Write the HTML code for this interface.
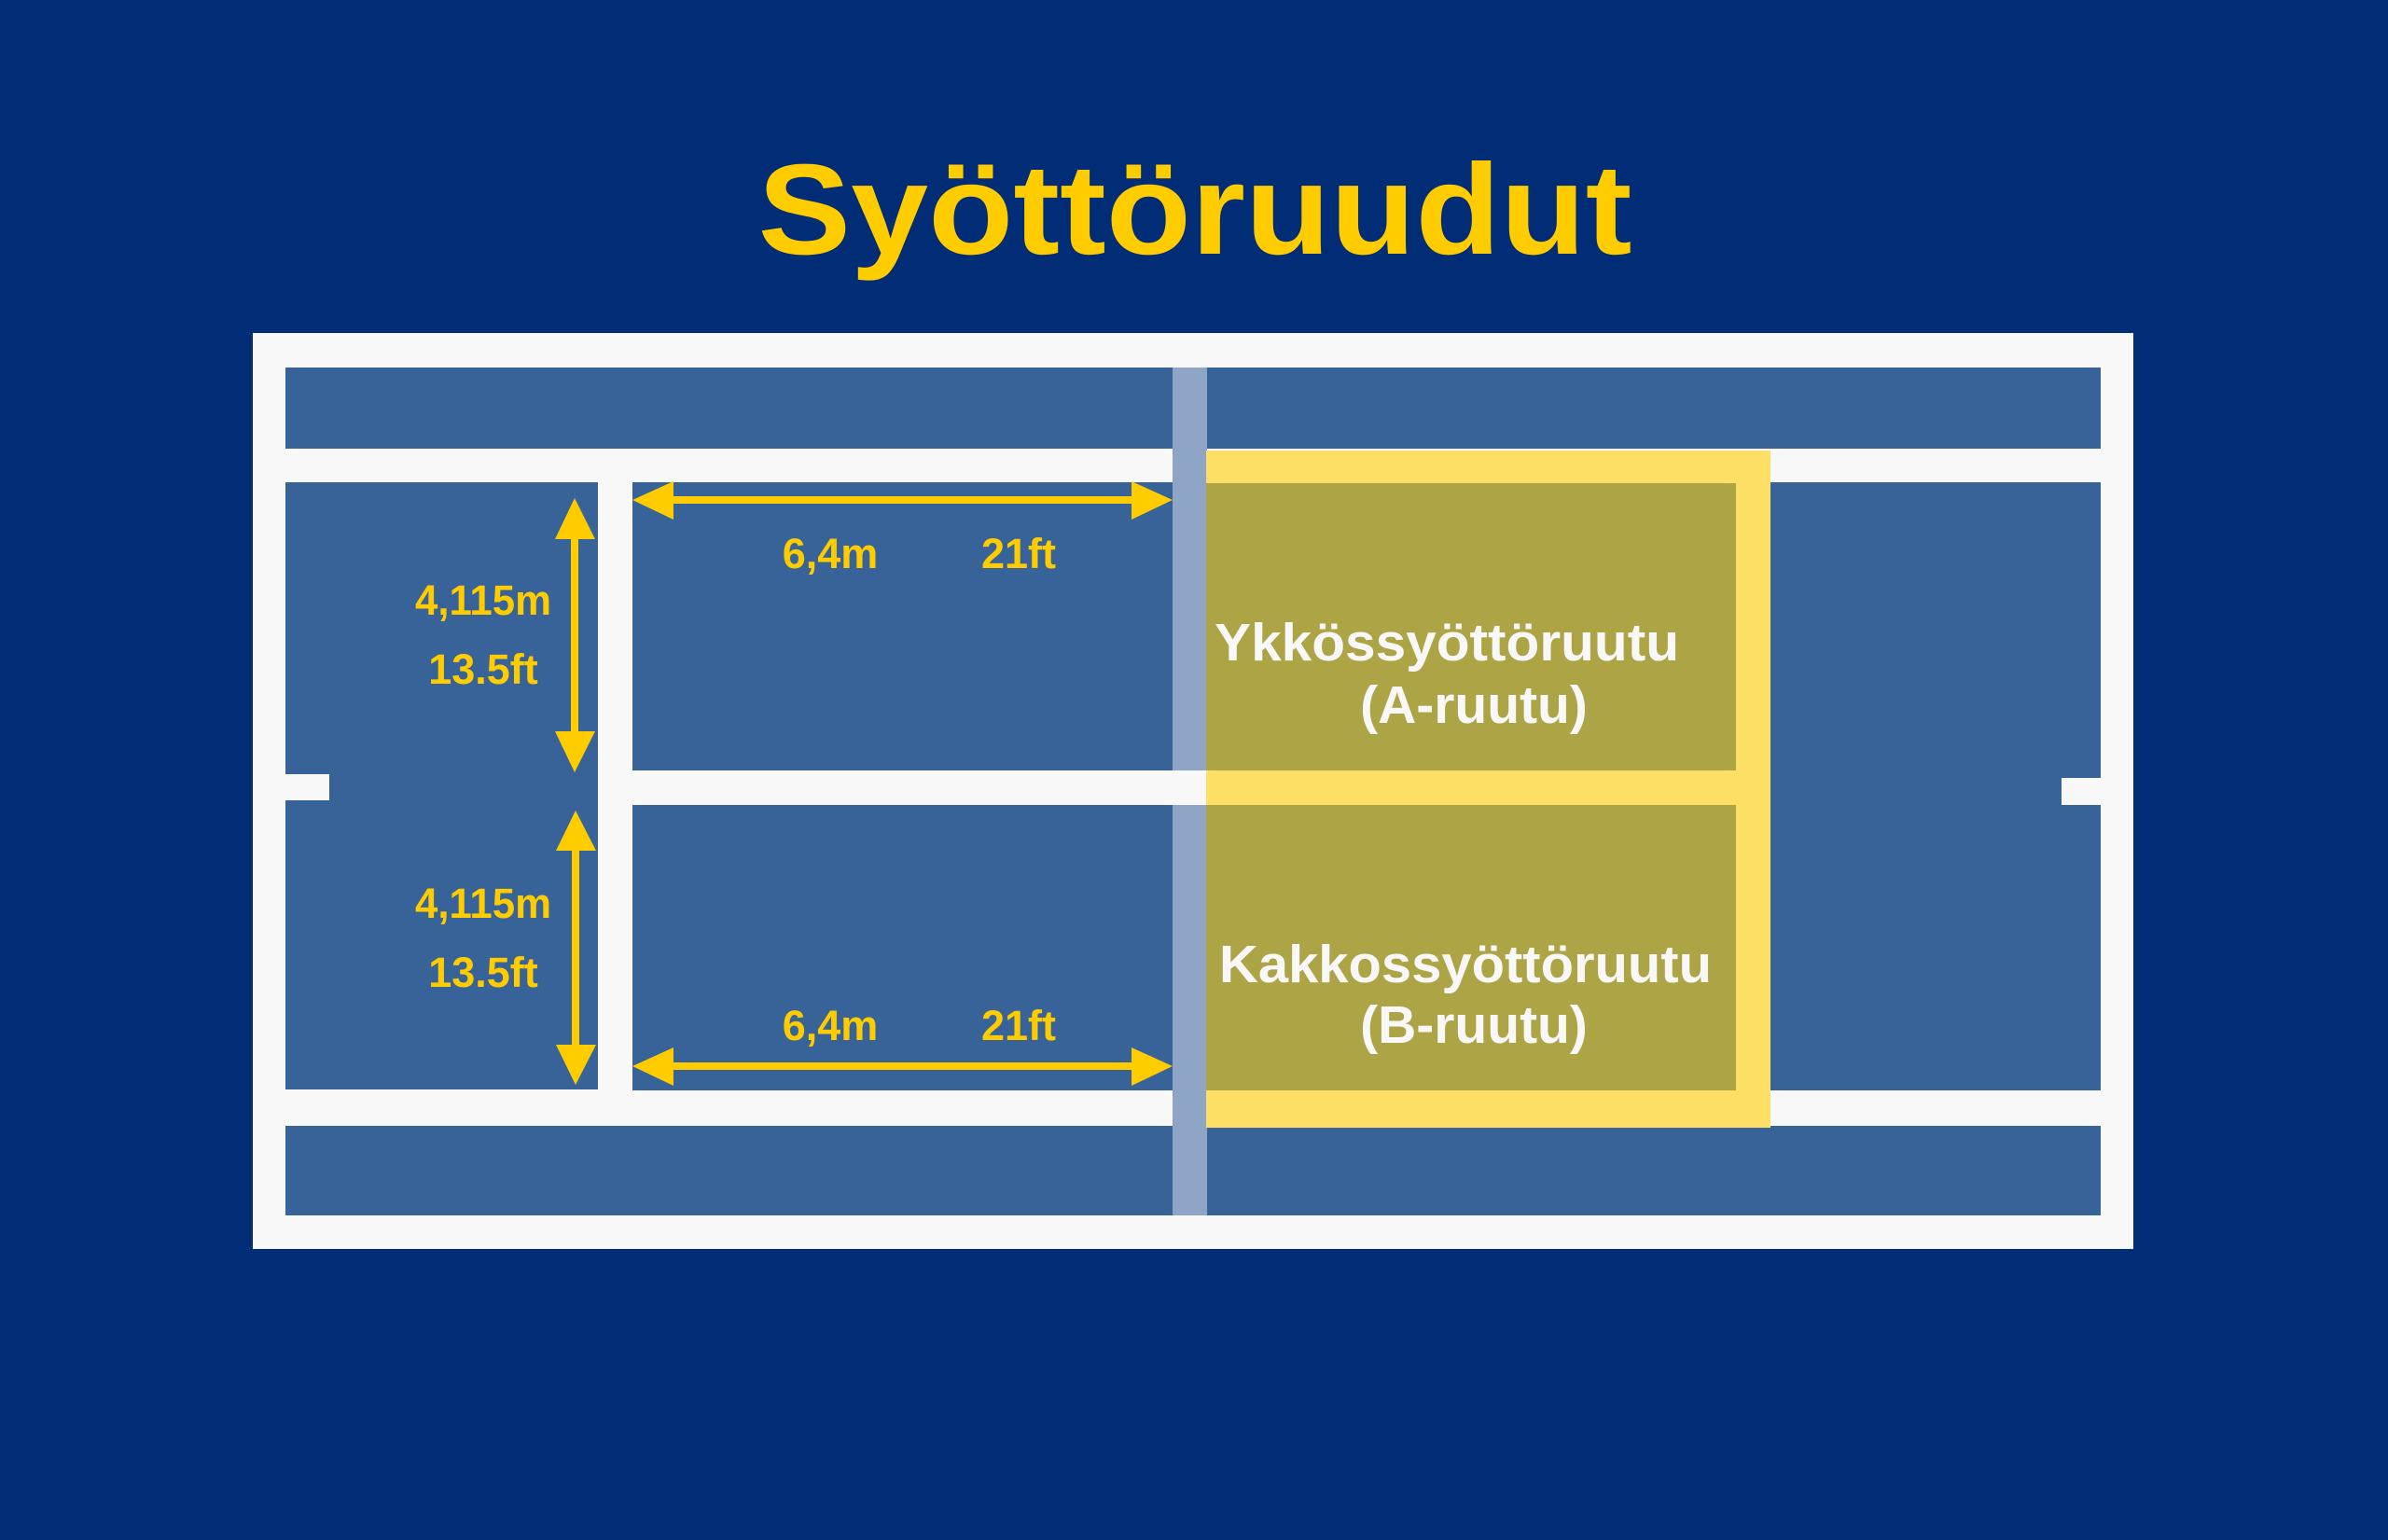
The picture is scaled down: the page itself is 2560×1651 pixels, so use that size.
<!DOCTYPE html>
<html><head><meta charset="utf-8"><style>html,body{margin:0;padding:0;background:#002d76}svg{display:block}</style></head>
<body>
<svg width="2560" height="1651" viewBox="0 0 2560 1651" xmlns="http://www.w3.org/2000/svg" font-family="'Liberation Sans', sans-serif" font-weight="bold">
<rect width="2560" height="1651" fill="#002d76"/>
<text x="1281" y="272" font-size="138" fill="#ffcc00" text-anchor="middle" textLength="937" lengthAdjust="spacingAndGlyphs">Syöttöruudut</text>
<rect x="271" y="357" width="2016" height="982" fill="#f8f8f8"/>
<rect x="306" y="394" width="1946" height="87" fill="#386399"/>
<rect x="306" y="1207" width="1946" height="96" fill="#386399"/>
<rect x="306" y="517" width="335" height="651" fill="#386399"/>
<rect x="678" y="517" width="616" height="309" fill="#386399"/>
<rect x="678" y="863" width="616" height="306" fill="#386399"/>
<rect x="1294" y="517" width="958" height="652" fill="#386399"/>
<rect x="306" y="830" width="47" height="28" fill="#f8f8f8"/>
<rect x="2210" y="834" width="42" height="29" fill="#f8f8f8"/>
<rect x="1257" y="394" width="37" height="909" fill="#8ea5c6"/>
<rect x="1257" y="826" width="37" height="37" fill="#f8f8f8"/>
<rect x="1293" y="483" width="605" height="726" fill="#fedf66"/>
<rect x="1293" y="518" width="568" height="308" fill="#ada446"/>
<rect x="1293" y="863" width="568" height="306" fill="#ada446"/>
<g fill="#ffcc00" stroke="none">
<rect x="720" y="532" width="496" height="8"/>
<polygon points="678,536 722,516 722,557"/>
<polygon points="1257,536 1213,516 1213,557"/>
<rect x="720" y="1139" width="496" height="8"/>
<polygon points="678,1143 722,1123 722,1164"/>
<polygon points="1257,1143 1213,1123 1213,1164"/>
<rect x="612" y="574" width="8" height="216"/>
<polygon points="616,534 595,578 638,578"/>
<polygon points="616,828 595,784 638,784"/>
<rect x="613" y="908" width="8" height="217"/>
<polygon points="617,869 596,912 639,912"/>
<polygon points="617,1163 596,1120 639,1120"/>
</g>
<g fill="#ffcc00" font-size="45" text-anchor="middle">
<text x="890" y="609">6,4m</text>
<text x="1092" y="609">21ft</text>
<text x="890" y="1115">6,4m</text>
<text x="1092" y="1115">21ft</text>
<text x="518" y="659" textLength="146" lengthAdjust="spacingAndGlyphs">4,115m</text>
<text x="518" y="733">13.5ft</text>
<text x="518" y="984" textLength="146" lengthAdjust="spacingAndGlyphs">4,115m</text>
<text x="518" y="1058">13.5ft</text>
</g>
<g fill="#f8f8f8" font-size="57" text-anchor="middle">
<text x="1551" y="708" textLength="498" lengthAdjust="spacingAndGlyphs">Ykkössyöttöruutu</text>
<text x="1580" y="775">(A-ruutu)</text>
<text x="1571" y="1053" textLength="528" lengthAdjust="spacingAndGlyphs">Kakkossyöttöruutu</text>
<text x="1580" y="1118">(B-ruutu)</text>
</g>
</svg>
</body></html>
